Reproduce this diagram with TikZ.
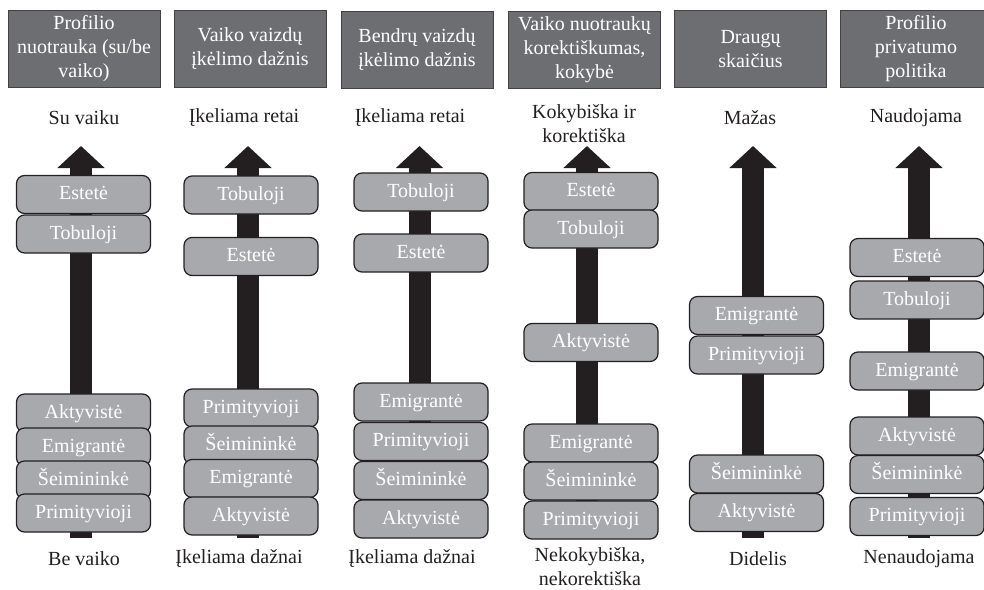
\documentclass[tikz,border=0pt]{standalone}
\usepackage{fontspec}
\setmainfont{Liberation Serif}
\usetikzlibrary{arrows.meta,positioning}
\definecolor{headgray}{HTML}{6D6E71}
\definecolor{boxgray}{HTML}{A7A9AC}
\definecolor{ink}{HTML}{231F20}
\tikzstyle{head}=[draw=ink!85,fill=headgray,text=white,align=center,minimum width=76pt,minimum height=38.5pt,inner sep=1pt]
\tikzstyle{kind}=[draw=ink,fill=boxgray,text=white,rounded corners=4pt,minimum width=67pt,minimum height=19pt,inner sep=1pt,text height=7pt,text depth=2pt,line width=0.6pt]
\tikzstyle{endtext}=[align=center,text=ink,inner sep=1pt]
\tikzstyle{shaft}=[line width=11pt,draw=ink,-{Triangle[length=11pt,width=23pt]}]

\begin{document}
\begin{tikzpicture}[x=0.5pt,y=-0.5pt,font=\fontsize{10}{12}\selectfont]
        \useasboundingbox (0,0) rectangle (984,589);
        \clip (0,0) rectangle (984,589);
        % headers
        \node (H1) [head] at (84,49) {Profilio\\nuotrauka (su/be\\vaiko)};
        \node (H2) [head] at (250,49) {Vaiko vaizdų\\įkėlimo dažnis};
        \node (H3) [head] at (417,49.5) {Bendrų vaizdų\\įkėlimo dažnis};
        \node (H4) [head] at (584.5,49.5) {Vaiko nuotraukų\\korektiškumas,\\kokybė};
        \node (H5) [head] at (750.5,49) {Draugų\\skaičius};
        \node (H6) [head] at (916,49) {Profilio\\privatumo\\politika};
        % top and bottom of each scale
        \node (T1) [endtext] at (84,118) {Su vaiku};
        \node (T2) [endtext] at (244,118) {Įkeliama retai};
        \node (T3) [endtext] at (410,118) {Įkeliama retai};
        \node (T4) [endtext] at (584,124) {Kokybiška ir\\korektiška};
        \node (T5) [endtext] at (750,118) {Mažas};
        \node (T6) [endtext] at (916,118) {Naudojama};
        \node (B1) [endtext] at (84,559) {Be vaiko};
        \node (B2) [endtext] at (239,559) {Įkeliama dažnai};
        \node (B3) [endtext] at (412,559) {Įkeliama dažnai};
        \node (B4) [endtext] at (590,567) {Nekokybiška,\\nekorektiška};
        \node (B5) [endtext] at (758,559) {Didelis};
        \node (B6) [endtext] at (919,559) {Nenaudojama};
        % arrows
        \foreach \i/\x in {1/81,2/248,3/419.5,4/587,5/753,6/919} {
            \coordinate (S\i) at (\x,538);
            \coordinate (P\i) at (\x,146);
            \draw[shaft] (S\i) -- (P\i);
        }
        % groups along each scale
        \foreach \n/\y/\t in {a/194.5/Estetė,b/234/Tobuloji,c/413/Aktyvistė,d/447/Emigrantė,e/480/Šeimininkė,f/513/Primityvioji}
            \node (C1\n) [kind] at (83.5,\y) {\t};
        \foreach \n/\y/\t in {a/195/Tobuloji,b/256.5/Estetė,c/408/Primityvioji,d/445/Šeimininkė,e/478.5/Emigrantė,f/516/Aktyvistė}
            \node (C2\n) [kind] at (251,\y) {\t};
        \foreach \n/\y/\t in {a/192/Tobuloji,b/253/Estetė,c/402/Emigrantė,d/441.5/Primityvioji,e/480.5/Šeimininkė,f/519/Aktyvistė}
            \node (C3\n) [kind] at (421,\y) {\t};
        \foreach \n/\y/\t in {a/191.5/Estetė,b/229/Tobuloji,c/342.5/Aktyvistė,d/443/Emigrantė,e/481/Šeimininkė,f/520/Primityvioji}
            \node (C4\n) [kind] at (591,\y) {\t};
        \foreach \n/\y/\t in {a/315.5/Emigrantė,b/355/Primityvioji,c/474/Šeimininkė,d/512.5/Aktyvistė}
            \node (C5\n) [kind] at (756.5,\y) {\t};
        \foreach \n/\y/\t in {a/257.5/Estetė,b/300/Tobuloji,c/371/Emigrantė,d/436/Aktyvistė,e/474.5/Šeimininkė,f/516.5/Primityvioji}
            \node (C6\n) [kind] at (917,\y) {\t};
    \end{tikzpicture}
\end{document}
